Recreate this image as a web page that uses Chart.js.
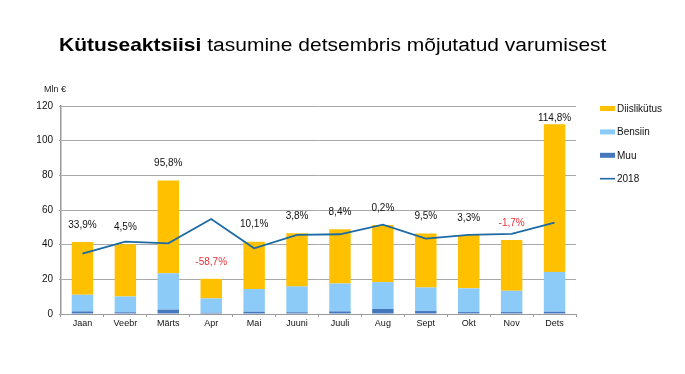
<!DOCTYPE html>
<html>
<head>
<meta charset="utf-8">
<script src="https://cdn.jsdelivr.net/npm/chart.js@4.4.1/dist/chart.umd.min.js"></script>
<style>
  html, body { margin: 0; padding: 0; background: #ffffff; }
  #wrap { position: relative; width: 685px; height: 374px; overflow: hidden; font-family: "Liberation Sans", Arial, sans-serif; }
  #title { position: absolute; left: 59px; top: 33px; font-size: 21px; color: #000; white-space: nowrap; transform: scaleY(0.88); transform-origin: left center; }
  #title b { font-weight: bold; }
  #unit { position: absolute; left: 44px; top: 84px; font-size: 9px; color: #222; white-space: nowrap; }
  canvas { position: absolute; left: 0; top: 0; }
</style>
</head>
<body>
<div id="wrap">
  <canvas id="c" width="685" height="374"></canvas>
  <div id="title"><b>Kütuseaktsiisi</b> tasumine detsembris mõjutatud varumisest</div>
  <div id="unit">Mln €</div>
</div>
<script>
const months = ["Jaan", "Veebr", "Märts", "Apr", "Mai", "Juuni", "Juuli", "Aug", "Sept", "Okt", "Nov", "Dets"];
const muu = [1.5, 1.0, 2.5, 0.7, 1.3, 1.0, 1.5, 2.9, 1.7, 1.1, 1.1, 1.3];
const bensiin = [9.6, 9.1, 21.0, 8.3, 13.1, 14.9, 16.1, 15.5, 13.6, 13.7, 12.3, 23.0];
const diislikutus = [30.5, 30.1, 53.5, 11.3, 27.3, 30.7, 31.3, 32.9, 31.1, 30.8, 29.3, 85.1];
const y2018 = [34.8, 41.7, 40.8, 54.8, 37.9, 45.6, 46.0, 51.5, 43.5, 45.6, 46.2, 52.7];
const growthLabels = ["33,9%", "4,5%", "95,8%", "-58,7%", "10,1%", "3,8%", "8,4%", "0,2%", "9,5%", "3,3%", "-1,7%", "114,8%"];
const yTicks = [0, 20, 40, 60, 80, 100, 120];

const FONT = '"Liberation Sans", Arial, sans-serif';

const labelPlugin = {
  id: 'growthLabels',
  afterDatasetsDraw(chart) {
    const ctx = chart.ctx;
    const y = chart.scales.y;
    const area = chart.chartArea;
    const barMeta = chart.getDatasetMeta(2);
    ctx.save();
    ctx.font = '10px ' + FONT;
    ctx.textAlign = 'center';
    ctx.textBaseline = 'middle';
    growthLabels.forEach((txt, i) => {
      const total = muu[i] + bensiin[i] + diislikutus[i];
      const x = barMeta.data[i].x;
      let py = y.getPixelForValue(total) - 17;
      py = Math.max(py, area.top + 12);
      ctx.fillStyle = txt.trim().startsWith('-') ? '#E8323C' : '#111111';
      ctx.fillText(txt, x, py);
    });
    ctx.restore();
  }
};

const legendPlugin = {
  id: 'sideLegend',
  afterDraw(chart) {
    const ctx = chart.ctx;
    const order = [2, 1, 0, 3];
    ctx.save();
    ctx.font = '10px ' + FONT;
    ctx.textAlign = 'left';
    ctx.textBaseline = 'middle';
    order.forEach((di, k) => {
      const ds = chart.data.datasets[di];
      const cy = 108.5 + k * 23.4;
      if (ds.type === 'line') {
        ctx.strokeStyle = ds.borderColor;
        ctx.lineWidth = 1.6;
        ctx.beginPath();
        ctx.moveTo(600, cy);
        ctx.lineTo(615, cy);
        ctx.stroke();
      } else {
        ctx.fillStyle = ds.backgroundColor;
        ctx.fillRect(600, cy - 2.5, 15, 5);
      }
      ctx.fillStyle = '#111111';
      ctx.fillText(ds.label, 617, cy + 0.5);
    });
    ctx.restore();
  }
};

new Chart(document.getElementById('c'), {
  data: {
    labels: months,
    datasets: [
      { type: 'bar', label: 'Muu', data: muu, backgroundColor: '#4678BE', stack: 'fuel', order: 1, barPercentage: 0.5, categoryPercentage: 1.0 },
      { type: 'bar', label: 'Bensiin', data: bensiin, backgroundColor: '#8CCBF7', stack: 'fuel', order: 1, barPercentage: 0.5, categoryPercentage: 1.0 },
      { type: 'bar', label: 'Diislikütus', data: diislikutus, backgroundColor: '#FFC000', stack: 'fuel', order: 1, barPercentage: 0.5, categoryPercentage: 1.0 },
      { type: 'line', label: '2018', data: y2018, borderColor: '#1C6AA5', borderWidth: 1.8, pointRadius: 0, tension: 0, fill: false, stack: 'line', order: 0 }
    ]
  },
  options: {
    responsive: false,
    animation: false,
    devicePixelRatio: 1,
    layout: { padding: { left: 0, right: 109, top: 106, bottom: 40 } },
    plugins: { legend: { display: false }, tooltip: { enabled: false }, title: { display: false } },
    scales: {
      x: {
        stacked: true,
        offset: true,
        grid: { display: true, drawOnChartArea: false, drawTicks: true, tickLength: 3, color: '#9A9A9A', offset: true },
        border: { display: true, color: '#9A9A9A', width: 1 },
        ticks: { color: '#111111', font: { family: FONT, size: 9 }, padding: 1, maxRotation: 0, autoSkip: false },
        afterFit(scale) { scale.height = 20; }
      },
      y: {
        stacked: true,
        min: 0,
        max: 120,
        afterBuildTicks(scale) { scale.ticks = yTicks.map(v => ({ value: v })); },
        grid: { color: '#A8A8A8', lineWidth: 1, drawTicks: true, tickLength: 2 },
        border: { display: true, color: '#9A9A9A', width: 1.5 },
        ticks: { color: '#111111', font: { family: FONT, size: 10 }, padding: 6 },
        afterFit(scale) { scale.width = 61; }
      }
    }
  },
  plugins: [labelPlugin, legendPlugin]
});
</script>
</body>
</html>
